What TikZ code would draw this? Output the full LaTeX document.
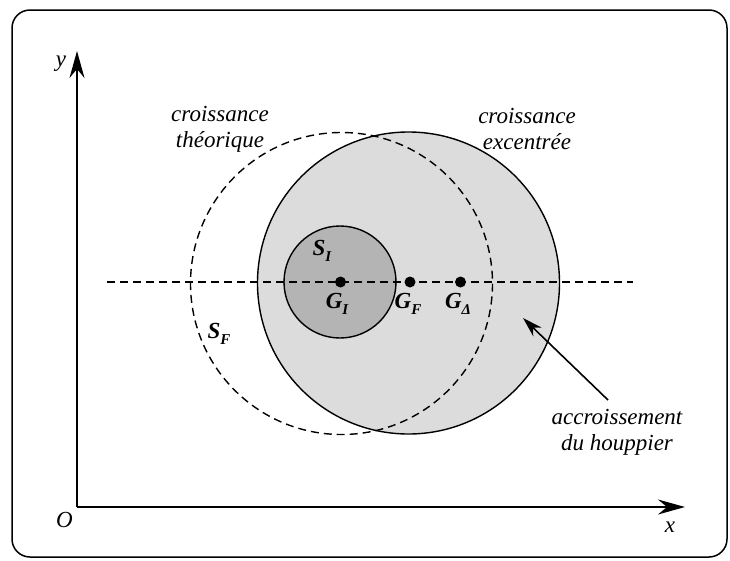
\documentclass[tikz,border=0pt]{standalone}
\usepackage{fontspec}
\setmainfont{Liberation Serif}
\usetikzlibrary{arrows.meta}
\definecolor{lightfill}{HTML}{DCDCDC}
\definecolor{darkfill}{HTML}{B4B4B4}
\newcommand{\lowsub}[1]{\raisebox{-0.28em}{\fontsize{15}{15}\selectfont #1}}
\begin{document}
\begin{tikzpicture}[x=1pt,y=-1pt,
  lbl/.style={font=\fontsize{23}{26}\selectfont\itshape, inner sep=0pt},
  blbl/.style={font=\fontsize{23}{26}\selectfont\bfseries\itshape, inner sep=0pt, anchor=base},
  two/.style={lbl, align=center},
  solidline/.style={line width=1.4pt},
  dashline/.style={line width=1.4pt, dash pattern=on 8pt off 5pt},
  axisline/.style={line width=1.8pt, -{Stealth[length=27pt,width=15pt,inset=9pt]}},
  pointer/.style={line width=1.6pt, -{Stealth[length=20pt,width=12pt,inset=6pt]}},
  dot/.style={circle, fill=black, inner sep=0pt, minimum size=11pt}]
\useasboundingbox (0,0) rectangle (730,560);
\draw[line width=1.5pt, rounded corners=18pt] (12,10) rectangle (727,557);
% circles
\fill[lightfill] (408.5,283) circle[radius=151];
\draw[solidline] (408.5,283) circle[radius=151];
\filldraw[fill=darkfill, solidline] (340,282) circle[radius=56];
\draw[dashline] (341.5,283.5) circle[radius=151];
% axes
\coordinate (O) at (77,507);
\coordinate (yend) at (77,51);
\coordinate (xend) at (685,507);
\draw[axisline] (O) -- (yend);
\draw[axisline] (O) -- (xend);
% horizontal dashed line
\coordinate (hl) at (107,282);
\coordinate (hr) at (633,282);
\draw[dashline] (hl) -- (hr);
% dots
\node[dot] (gi) at (340.5,282) {};
\node[dot] (gf) at (410,282) {};
\node[dot] (gd) at (460.5,282) {};
% labels
\node[blbl] (giL) at (337,308) {G\lowsub{I}};
\node[blbl] (gfL) at (408,308) {G\lowsub{F}};
\node[blbl] (gdL) at (458,308) {G\lowsub{Δ}};
\node[blbl] (siL) at (322,255) {S\lowsub{I}};
\node[blbl] (sfL) at (219,338) {S\lowsub{F}};
\node[lbl, anchor=base] (oL) at (64.5,527) {O};
\node[lbl, anchor=base] (xL) at (670,532) {x};
\node[lbl, anchor=base] (yL) at (61,66) {y};
\node[two] (theo) at (220,129) {croissance\\théorique};
\node[two] (exc) at (527,128.5) {croissance\\excentrée};
\node[two] (acc) at (617,432) {accroissement\\du houppier};
\coordinate (accfrom) at (608,400);
\coordinate (acctip) at (523,318);
\draw[pointer] (accfrom) -- (acctip);
\end{tikzpicture}
\end{document}
